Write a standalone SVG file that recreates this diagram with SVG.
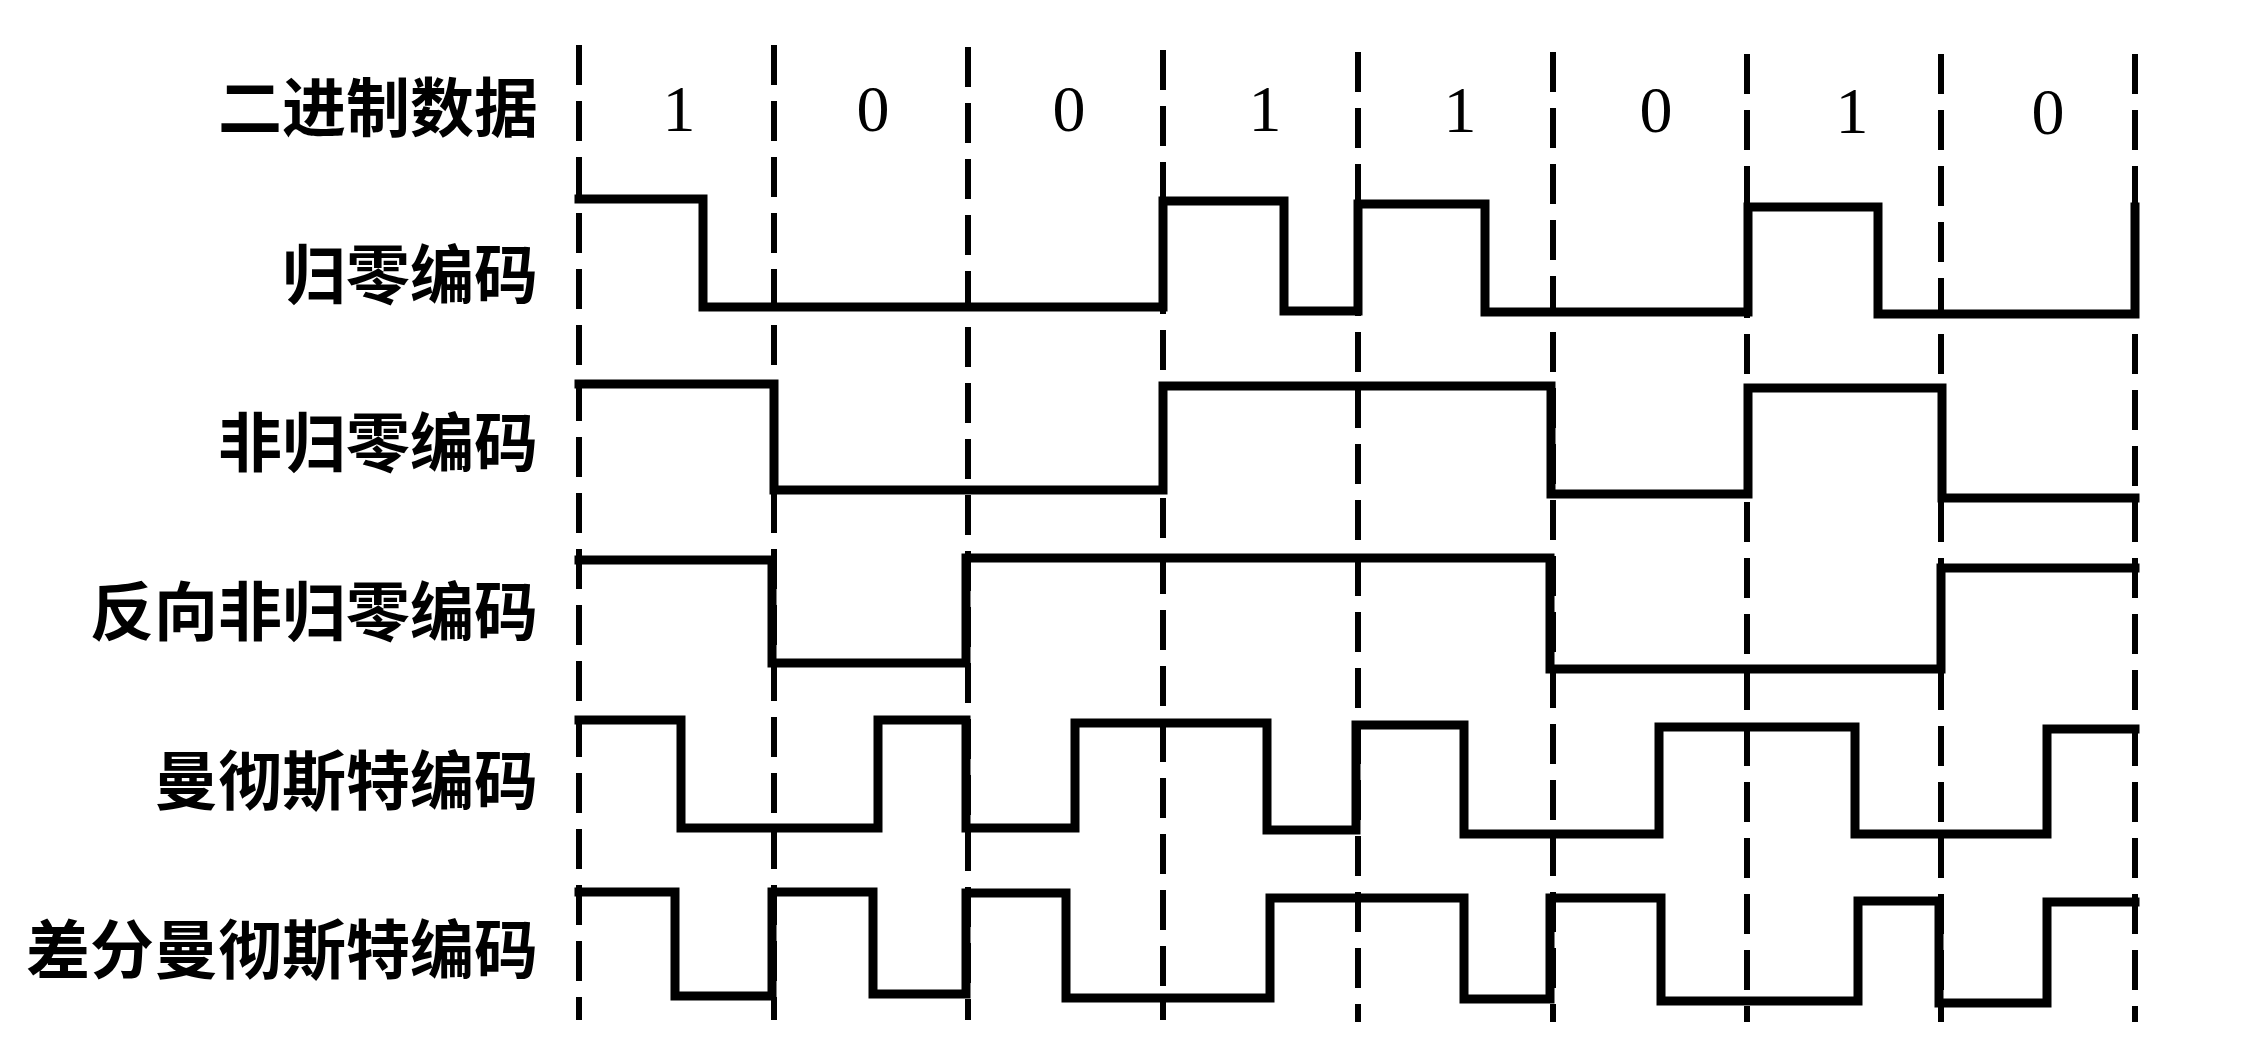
<svg xmlns="http://www.w3.org/2000/svg" width="2252" height="1056" viewBox="0 0 2252 1056">
<style>
.bg{fill:#ffffff}
.lbl{font-family:"Noto Sans CJK SC","Noto Sans CJK TC",sans-serif;font-weight:bold;font-size:64px;fill:#000;text-anchor:end;dominant-baseline:central}
.bit{font-family:"Liberation Serif",serif;font-size:66px;fill:#000;text-anchor:middle}
.wave{fill:none;stroke:#000;stroke-width:9;stroke-linejoin:miter;stroke-linecap:square}
.dash{stroke:#000;stroke-width:6;stroke-dasharray:40 16;fill:none}
</style>
<rect class="bg" x="0" y="0" width="2252" height="1056"/>
<g id="grid">
<line class="dash" x1="579" y1="45" x2="579" y2="1020"/>
<line class="dash" x1="774" y1="45" x2="774" y2="1020"/>
<line class="dash" x1="968" y1="47" x2="968" y2="1020"/>
<line class="dash" x1="1163" y1="50" x2="1163" y2="1020"/>
<line class="dash" x1="1358" y1="52" x2="1358" y2="1022"/>
<line class="dash" x1="1553" y1="52" x2="1553" y2="1022"/>
<line class="dash" x1="1747" y1="54" x2="1747" y2="1022"/>
<line class="dash" x1="1941" y1="54" x2="1941" y2="1022"/>
<line class="dash" x1="2135" y1="54" x2="2135" y2="1022"/>
</g>
<g id="row-binary">
<text class="lbl" x="538" y="103">二进制数据</text>
<text class="bit" x="679" y="131">1</text>
<text class="bit" x="873" y="131">0</text>
<text class="bit" x="1069" y="131">0</text>
<text class="bit" x="1265" y="131">1</text>
<text class="bit" x="1460" y="132">1</text>
<text class="bit" x="1656" y="132">0</text>
<text class="bit" x="1852" y="133">1</text>
<text class="bit" x="2048" y="134">0</text>
</g>
<g id="row-rz">
<text class="lbl" x="538" y="270">归零编码</text>
<path class="wave" d="M579,199 H703 V307 H1163 V201 H1284 V311 H1358 V204 H1485 V312 H1748 V207 H1878 V314 H2135 V207"/>
</g>
<g id="row-nrz">
<text class="lbl" x="538" y="438">非归零编码</text>
<path class="wave" d="M579,384 H774 V490 H1163 V386 H1551 V494 H1748 V388 H1942 V498 H2135"/>
</g>
<g id="row-nrzi">
<text class="lbl" x="538" y="607">反向非归零编码</text>
<path class="wave" d="M579,560 H772 V663 H966 V558 H1550 V669 H1941 V568 H2135"/>
</g>
<g id="row-manchester">
<text class="lbl" x="538" y="776">曼彻斯特编码</text>
<path class="wave" d="M579,720 H681 V828 H878 V720 H966 V828 H1075 V723 H1267 V830 H1356 V725 H1464 V834 H1659 V727 H1855 V834 H2047 V729 H2135"/>
</g>
<g id="row-diff-manchester">
<text class="lbl" x="538" y="945">差分曼彻斯特编码</text>
<path class="wave" d="M579,892 H675 V996 H772 V892 H873 V994 H966 V893 H1066 V998 H1270 V898 H1464 V999 H1550 V898 H1661 V1001 H1858 V901 H1939 V1003 H2047 V902 H2135"/>
</g>
</svg>
